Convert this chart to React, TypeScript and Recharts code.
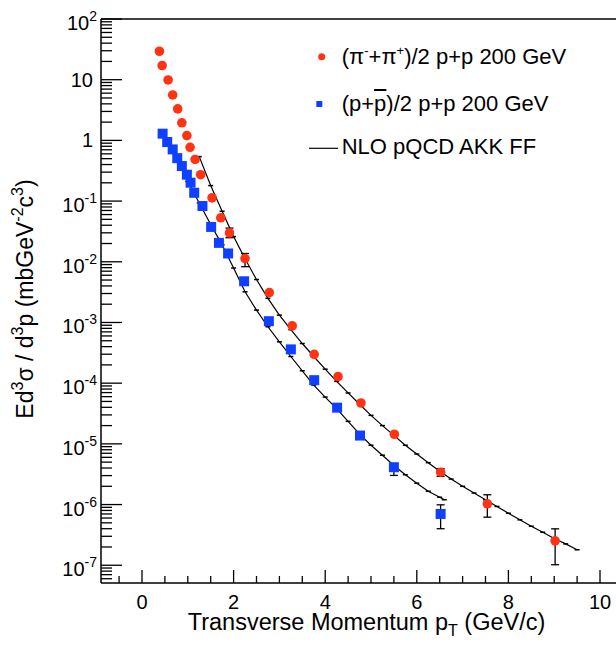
import React from 'react';
import { ComposedChart, Scatter, XAxis, YAxis, ErrorBar, ReferenceLine, Legend } from 'recharts';

const FONT = '"Liberation Sans", Arial, Helvetica, sans-serif';
const RED = '#ff3311';
const BLUE = '#1040ff';

// (pi- + pi+)/2 p+p 200 GeV
const pionPt = [0.38, 0.44, 0.57, 0.67, 0.78, 0.87, 0.98, 1.05, 1.16, 1.28, 1.53, 1.72, 1.91, 2.25, 2.78, 3.28, 3.76, 4.28, 4.78, 5.51, 6.52, 7.54, 9.02];
const pionYield = [29.4, 17.1, 9.9, 5.6, 3.3, 1.95, 1.2, 0.77, 0.485, 0.272, 0.113, 0.053, 0.0299, 0.0113, 0.00311, 8.8e-4, 2.98e-4, 1.28e-4, 4.71e-5, 1.44e-5, 3.41e-6, 1.03e-6, 2.53e-7];
const pionErrLow = [0, 0, 0, 0, 0, 0, 0, 0, 0, 0, 0, 0, 0.005, 0.003, 0, 0, 0, 0, 0, 0, 0.5e-6, 0.41e-6, 1.51e-7];
const pionErrHigh = [0, 0, 0, 0, 0, 0, 0, 0, 0, 0, 0, 0, 0.006, 0.0024, 0, 0, 0, 0, 0, 0, 0.5e-6, 0.42e-6, 1.45e-7];

// (p + pbar)/2 p+p 200 GeV
const protonPt = [0.45, 0.55, 0.67, 0.77, 0.87, 0.98, 1.06, 1.14, 1.32, 1.51, 1.68, 1.88, 2.23, 2.77, 3.25, 3.76, 4.26, 4.76, 5.5, 6.52];
const protonYield = [1.29, 0.94, 0.71, 0.51, 0.378, 0.272, 0.201, 0.137, 0.083, 0.0375, 0.0205, 0.0137, 0.00477, 1.05e-3, 3.6e-4, 1.12e-4, 3.95e-5, 1.37e-5, 4.12e-6, 7.0e-7];
const protonErrLow = [0, 0, 0, 0, 0, 0, 0, 0, 0, 0, 0, 0, 0, 0, 0, 0, 0, 0, 1.1e-6, 3.0e-7];
const protonErrHigh = [0, 0, 0, 0, 0, 0, 0, 0, 0, 0, 0, 0, 0, 0, 0, 0, 0, 0, 0.5e-6, 2.9e-7];

// NLO pQCD AKK FF curves
const nloPionPt = [1.25, 1.5, 1.75, 2.0, 2.25, 2.5, 2.75, 3.0, 3.25, 3.5, 3.75, 4.0, 4.25, 4.5, 4.75, 5.0, 5.25, 5.5, 5.75, 6.0, 6.25, 6.5, 6.75, 7.0, 7.25, 7.5, 7.75, 8.0, 8.25, 8.5, 8.75, 9.0, 9.25, 9.5];
const nloPionYield = [0.54, 0.18, 0.068, 0.026, 0.0112, 0.0051, 0.0025, 0.00132, 7.6e-4, 4.5e-4, 2.75e-4, 1.7e-4, 1.07e-4, 6.9e-5, 4.5e-5, 2.95e-5, 2.0e-5, 1.38e-5, 9.5e-6, 6.8e-6, 4.9e-6, 3.55e-6, 2.63e-6, 2.0e-6, 1.55e-6, 1.2e-6, 9.3e-7, 7.2e-7, 5.6e-7, 4.4e-7, 3.5e-7, 2.75e-7, 2.25e-7, 1.8e-7];
const nloProtonPt = [1.0, 1.25, 1.5, 1.75, 2.0, 2.25, 2.5, 2.75, 3.0, 3.25, 3.5, 3.75, 4.0, 4.25, 4.5, 4.75, 5.0, 5.25, 5.5, 5.75, 6.0, 6.25, 6.5, 6.6];
const nloProtonYield = [0.21, 0.093, 0.041, 0.019, 0.0079, 0.0032, 0.0016, 8.5e-4, 4.8e-4, 2.75e-4, 1.6e-4, 9.3e-5, 5.9e-5, 3.8e-5, 2.35e-5, 1.45e-5, 9.5e-6, 6.5e-6, 4.4e-6, 3.1e-6, 2.25e-6, 1.66e-6, 1.32e-6, 1.2e-6];

// axes
const xMajorTicks = [0, 2, 4, 6, 8, 10];
const xMajorLabels = ['0', '2', '4', '6', '8', '10'];
const xMinorTicks = [-0.5, 0.5, 1, 1.5, 2.5, 3, 3.5, 4.5, 5, 5.5, 6.5, 7, 7.5, 8.5, 9, 9.5];
const yMajorTicks = [1e2, 1e1, 1, 1e-1, 1e-2, 1e-3, 1e-4, 1e-5, 1e-6, 1e-7];
const yMajorBase = ['10', '10', '1', '10', '10', '10', '10', '10', '10', '10'];
const yMajorSup = ['2', '', '', '-1', '-2', '-3', '-4', '-5', '-6', '-7'];
const yMinorMantissas = [2, 3, 4, 5, 6, 7, 8, 9];
const Y_MIN = 5.1e-8;
const Y_MAX = 100;
const X_MIN = -0.895;
const X_MAX = 10.502;

const legendLabels = ['(π⁻+π⁺)/2 p+p 200 GeV', '(p+p̄)/2 p+p 200 GeV', 'NLO pQCD AKK FF'];

const PLOT_LEFT = 93;
const PLOT_BOTTOM = 575;

const yMinorTicks: number[] = [];
for (let d = -8; d <= 1; d++) {
  for (const m of yMinorMantissas) {
    const v = m * Math.pow(10, d);
    if (v >= Y_MIN && v <= Y_MAX) yMinorTicks.push(v);
  }
}
const yAllTicks = [...yMajorTicks, ...yMinorTicks].sort((a, b) => a - b);
const xAllTicks = [...xMajorTicks, ...xMinorTicks].sort((a, b) => a - b);

const pionData = pionPt.map((x, i) => ({ x, y: pionYield[i] }));
const protonData = protonPt.map((x, i) => ({ x, y: protonYield[i] }));
const pionErrData = pionPt
  .map((x, i) => ({ x, y: pionYield[i], err: [pionErrLow[i], pionErrHigh[i]] }))
  .filter((d) => d.err[0] > 0 || d.err[1] > 0);
const protonErrData = protonPt
  .map((x, i) => ({ x, y: protonYield[i], err: [protonErrLow[i], protonErrHigh[i]] }))
  .filter((d) => d.err[0] > 0 || d.err[1] > 0);
const nloPionData = nloPionPt.map((x, i) => ({ x, y: nloPionYield[i] }));
const nloProtonData = nloProtonPt.map((x, i) => ({ x, y: nloProtonYield[i] }));

const YTick = (props: any) => {
  const { y, payload } = props;
  const v = payload.value;
  const lg = Math.log10(v);
  const e = Math.round(lg);
  const isMajor = Math.abs(lg - e) < 1e-9;
  const idx = isMajor ? yMajorTicks.findIndex((m) => Math.round(Math.log10(m)) === e) : -1;
  const len = isMajor ? 21 : 11;
  const sup = idx >= 0 ? yMajorSup[idx] : '';
  return (
    <g>
      <line x1={PLOT_LEFT} x2={PLOT_LEFT + len} y1={y} y2={y} stroke="#000" strokeWidth={1.3} />
      {idx >= 0 && (
        <text
          x={sup ? 89 : 85}
          y={sup ? y + 11 : y + 7}
          textAnchor="end"
          fontSize={20}
          fontFamily={FONT}
          fill="#000"
        >
          {yMajorBase[idx]}
          {sup && (
            <tspan dy={-9} fontSize={14}>
              {sup}
            </tspan>
          )}
        </text>
      )}
    </g>
  );
};

const XTick = (props: any) => {
  const { x, payload } = props;
  const v = payload.value;
  const idx = xMajorTicks.indexOf(v);
  const len = idx >= 0 ? 13 : 7;
  return (
    <g>
      <line x1={x} x2={x} y1={PLOT_BOTTOM} y2={PLOT_BOTTOM - len} stroke="#000" strokeWidth={1.3} />
      {idx >= 0 && (
        <text x={x} y={601} textAnchor="middle" fontSize={20} fontFamily={FONT} fill="#000">
          {xMajorLabels[idx]}
        </text>
      )}
    </g>
  );
};

const XTitle = () => (
  <text x={358.5} y={622} textAnchor="middle" fontSize={23.5} fontFamily={FONT} fill="#000">
    Transverse Momentum p
    <tspan dy={6} fontSize={16}>T</tspan>
    <tspan dy={-6}> (GeV/c)</tspan>
  </text>
);

const YTitle = () => (
  <text
    x={25}
    y={291}
    transform="rotate(-90 25 291)"
    textAnchor="middle"
    fontSize={23}
    fontFamily={FONT}
    fill="#000"
  >
    Ed
    <tspan dy={-10} fontSize={16}>3</tspan>
    <tspan dy={10}>σ / d</tspan>
    <tspan dy={-10} fontSize={16}>3</tspan>
    <tspan dy={10}>p (mbGeV</tspan>
    <tspan dy={-10} fontSize={16}>-2</tspan>
    <tspan dy={10}>c</tspan>
    <tspan dy={-10} fontSize={16}>3</tspan>
    <tspan dy={10}>)</tspan>
  </text>
);

const supStyle: React.CSSProperties = { fontSize: 13, position: 'relative', top: -9 };

const LegendContent = () => (
  <div style={{ position: 'relative', width: 608, height: 0, fontFamily: FONT, color: '#000' }}>
    <svg style={{ position: 'absolute', left: 0, top: 0, overflow: 'visible' }} width={608} height={160}>
      <circle cx={313.7} cy={48.7} r={3.5} fill={RED} />
      <rect x={308.3} y={93} width={6} height={6} fill={BLUE} />
      <line x1={301} x2={330} y1={140.3} y2={140.3} stroke="#000" strokeWidth={1.2} />
    </svg>
    <div style={{ position: 'absolute', left: 333.7, top: 37.6, fontSize: 22, lineHeight: '22px', whiteSpace: 'nowrap' }}>
      (π<span style={supStyle}>-</span>+π<span style={supStyle}>+</span>)/2 p+p 200 GeV
    </div>
    <div style={{ position: 'absolute', left: 333.7, top: 85.3, fontSize: 22, lineHeight: '22px', whiteSpace: 'nowrap' }}>
      (p+<span style={{ textDecoration: 'overline' }}>p</span>)/2 p+p 200 GeV
    </div>
    <div style={{ position: 'absolute', left: 333.7, top: 128, fontSize: 22, lineHeight: '22px', whiteSpace: 'nowrap' }}>
      {legendLabels[2]}
    </div>
  </div>
);

const RedDot = (props: any) => <circle cx={props.cx} cy={props.cy} r={4.8} fill={RED} />;
const BlueSquare = (props: any) => (
  <rect x={props.cx - 5} y={props.cy - 5} width={10} height={10} fill={BLUE} />
);
const CurveTick = (props: any) => (
  <line x1={props.cx - 2.5} x2={props.cx + 2.5} y1={props.cy} y2={props.cy} stroke="#000" strokeWidth={1.5} />
);
const Nothing = () => <g />;

export default function App() {
  return (
    <>
      <style>{'body { margin: 8px 0 0 8px; }'}</style>
      <div
        style={{
          width: 608,
          height: 641,
          overflow: 'hidden',
          position: 'relative',
          background: '#fff',
        }}
      >
        <ComposedChart width={640} height={641} margin={{ top: 11, right: 25, bottom: 0, left: 0 }}>
          <XAxis
            type="number"
            dataKey="x"
            domain={[X_MIN, X_MAX]}
            allowDataOverflow
            ticks={xAllTicks}
            interval={0}
            tick={<XTick />}
            tickLine={false}
            tickSize={0}
            tickMargin={0}
            height={66}
            axisLine={{ stroke: '#000', strokeWidth: 1.5 }}
            label={<XTitle />}
          />
          <YAxis
            type="number"
            dataKey="y"
            scale="log"
            domain={[Y_MIN, Y_MAX]}
            allowDataOverflow
            ticks={yAllTicks}
            interval={0}
            tick={<YTick />}
            tickLine={false}
            tickSize={0}
            tickMargin={0}
            width={93}
            axisLine={{ stroke: '#000', strokeWidth: 1.5 }}
            label={<YTitle />}
          />
          <ReferenceLine y={Y_MAX} stroke="#000" strokeWidth={1.5} ifOverflow="extendDomain" />
          <Scatter
            name="NLO pi"
            data={nloPionData}
            line={{ stroke: '#000', strokeWidth: 1.2 }}
            lineType="joint"
            shape={<CurveTick />}
            isAnimationActive={false}
            legendType="none"
          />
          <Scatter
            name="NLO p"
            data={nloProtonData}
            line={{ stroke: '#000', strokeWidth: 1.2 }}
            lineType="joint"
            shape={<CurveTick />}
            isAnimationActive={false}
            legendType="none"
          />
          <Scatter name="pion err" data={pionErrData} shape={<Nothing />} isAnimationActive={false} legendType="none">
            <ErrorBar dataKey="err" direction="y" width={4} stroke="#000" strokeWidth={1.3} isAnimationActive={false} />
          </Scatter>
          <Scatter name="proton err" data={protonErrData} shape={<Nothing />} isAnimationActive={false} legendType="none">
            <ErrorBar dataKey="err" direction="y" width={4} stroke="#000" strokeWidth={1.3} isAnimationActive={false} />
          </Scatter>
          <Scatter name={legendLabels[0]} data={pionData} shape={<RedDot />} fill={RED} isAnimationActive={false} />
          <Scatter name={legendLabels[1]} data={protonData} shape={<BlueSquare />} fill={BLUE} isAnimationActive={false} />
          <Legend
            content={<LegendContent />}
            layout="vertical"
            align="center"
            verticalAlign="middle"
            wrapperStyle={{ left: 0, top: 0, width: 608, height: 0 }}
          />
        </ComposedChart>
      </div>
    </>
  );
}
